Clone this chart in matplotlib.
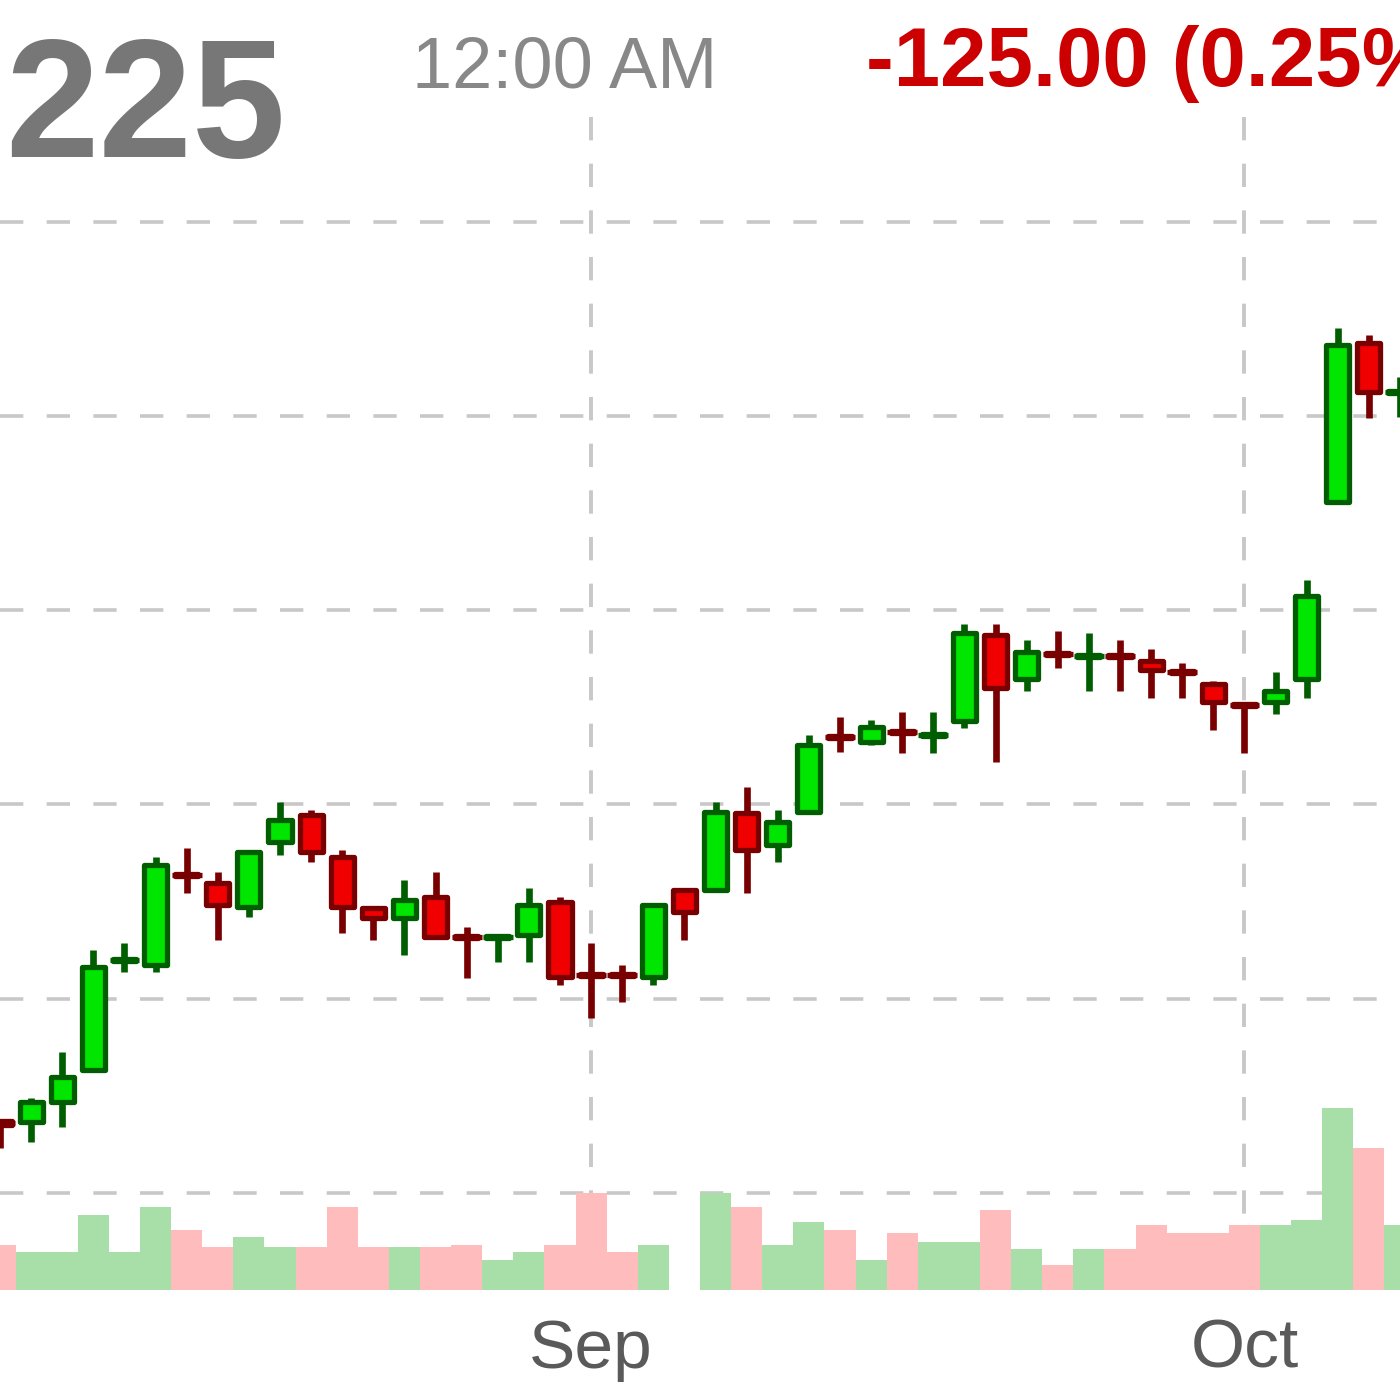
import matplotlib.pyplot as plt
from matplotlib.patches import Rectangle

# fonts + dash lengths in points (not scaled by line width)
plt.rcParams['font.family'] = ['Liberation Sans', 'DejaVu Sans']
plt.rcParams['lines.scale_dashes'] = False

# daily candles
opens = [40371, 40366, 40469, 40634, 41195, 41174, 41643, 41596, 41473, 41808,
         41947, 41730, 41468, 41416, 41524, 41323, 41313, 41329, 41499, 41128,
         41128, 41112, 41560, 41560, 41957, 41792, 41962, 42353, 42322, 42379,
         42353, 42431, 42873, 42647, 42781, 42760, 42770, 42740, 42688, 42621,
         42518, 42528, 42647, 43558, 44377, 44119]
highs = [40381, 40489, 40726, 41251, 41288, 41730, 41777, 41653, 41766, 42013,
         41972, 41766, 41473, 41612, 41653, 41370, 41330, 41571, 41524, 41288,
         41174, 41490, 41571, 42013, 42091, 41972, 42359, 42451, 42436, 42477,
         42477, 42930, 42930, 42848, 42894, 42884, 42848, 42801, 42729, 42637,
         42520, 42683, 43157, 44454, 44418, 44202]
lows = [40232, 40263, 40340, 40623, 41138, 41138, 41545, 41303, 41421, 41741,
        41705, 41339, 41303, 41226, 41318, 41107, 41190, 41190, 41071, 40901,
        40984, 41071, 41303, 41555, 41545, 41705, 41955, 42271, 42307, 42266,
        42266, 42395, 42220, 42585, 42704, 42585, 42585, 42549, 42549, 42384,
        42266, 42467, 42549, 43555, 43991, 43996]
closes = [40350, 40469, 40598, 41164, 41205, 41689, 41632, 41483, 41756, 41921,
          41756, 41473, 41416, 41509, 41318, 41313, 41323, 41483, 41112, 41118,
          41118, 41483, 41447, 41962, 41766, 41910, 42307, 42343, 42400, 42369,
          42364, 42884, 42601, 42786, 42770, 42770, 42760, 42693, 42678, 42528,
          42508, 42585, 43074, 44367, 44125, 44130]
volumes = [38, 32, 32, 64, 32, 71, 51, 37, 45, 37,
           37, 71, 37, 37, 37, 38, 26, 32, 38, 83,
           32, 38, 0, 83, 71, 38, 58, 51, 26, 49,
           41, 41, 68, 35, 21, 35, 35, 55, 49, 49,
           55, 55, 60, 155, 121, 55]
month_labels = ['Sep', 'Oct']
month_starts = [19, 40]
price_grid = [40000, 41000, 42000, 43000, 44000, 45000]

up_body, up_edge = '#00e600', '#005e00'
down_body, down_edge = '#f00000', '#780000'
vol_up, vol_down = '#a8dfa8', '#ffbcbc'
grid_color = '#c8c8c8'

fig = plt.figure(figsize=(14, 14), dpi=100)
ax = fig.add_axes([0, 1 - 1290 / 1400, 1, (1290 - 117) / 1400])
ax.set_xlim(0, len(opens) - 1)
ax.set_ylim(39500, 45540)

# dashed price grid
ax.set_yticks(price_grid)
ax.grid(axis='y', color=grid_color, lw=2.6, linestyle=(0, (16.8, 16.8)))
ax.set_axisbelow(True)

# month separators, dashes start from the top
for m in month_starts:
    ax.plot([m, m], [1, 0], transform=ax.get_xaxis_transform(),
            color=grid_color, lw=2.8, linestyle=(0, (16.8, 16.8)), zorder=1)

# candles
for i, (o, h, l, c) in enumerate(zip(opens, highs, lows, closes)):
    up = c >= o
    edge = up_edge if up else down_edge
    body = up_body if up else down_body
    ax.vlines(i, l, h, color=edge, lw=4.8, zorder=2)
    if abs(c - o) < 25:
        ax.hlines((o + c) / 2, i - 0.48, i + 0.48, color=edge, lw=3.8, zorder=3)
    ax.add_patch(Rectangle((i - 0.37, min(o, c)), 0.74, abs(c - o),
                           facecolor=body, edgecolor=edge, lw=3.8,
                           joinstyle='round', zorder=3))

# volume at the bottom
ax2 = ax.twinx()
ax2.set_ylim(0, 1000)
vol_colors = [vol_up if c >= o else vol_down for o, c in zip(opens, closes)]
ax2.bar(range(len(volumes)), volumes, width=1.0, color=vol_colors, lw=0, zorder=2)
ax2.set_yticks([])

ax.set_xticks(month_starts, month_labels)
ax.tick_params(axis='x', length=0, pad=20, labelsize=50, labelcolor='#5a5a5a')
ax.tick_params(axis='y', length=0, labelleft=False)
for a in (ax, ax2):
    for s in a.spines.values():
        s.set_visible(False)

# header texts
fig.text(0.004, 1 - 157 / 1400, '225', fontsize=121, fontweight='bold',
         color='#777777', va='baseline')
fig.text(0.2943, 1 - 87 / 1400, '12:00 AM', fontsize=52, color='#888888',
         va='baseline')
fig.text(0.6186, 1 - 86 / 1400, '-125.00 (0.25%)', fontsize=60, fontweight='bold',
         color='#cc0000', va='baseline')

fig.savefig('out.png', dpi=100)
